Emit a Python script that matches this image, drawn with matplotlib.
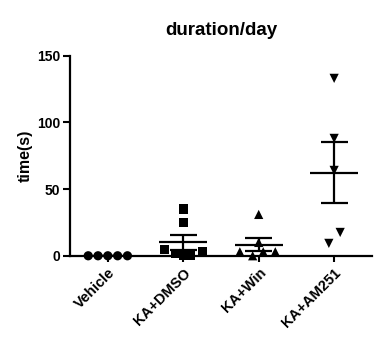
"""
Scatter dot plot with mean and SEM bars: duration/day per group.
"""

import numpy as np
import matplotlib.pyplot as plt

plt.rcParams['font.family'] = ['Liberation Sans', 'DejaVu Sans']
plt.rcParams['font.weight'] = 'bold'

# Groups and per-animal values (s)
groups = ["Vehicle", "KA+DMSO", "KA+Win", "KA+AM251"]
vehicle = [0, 0, 0, 0, 0]
ka_dmso = [35, 25, 5, 1.5, 0, 0, 3.5]
ka_win = [31, 10, 3, 0, 3, 3]
ka_am251 = [133, 88, 64, 17.5, 9.3]

values = [vehicle, ka_dmso, ka_win, ka_am251]
markers = ["o", "s", "^", "v"]

# horizontal scatter of points within each group (layout only)
offsets = [
    [-0.26, -0.13, 0.0, 0.13, 0.26],
    [0.0, 0.0, -0.25, -0.1, 0.0, 0.1, 0.26],
    [0.0, 0.0, -0.25, -0.08, 0.06, 0.22],
    [0.0, 0.0, 0.0, 0.08, -0.07],
]

fig = plt.figure(figsize=(3.81, 3.48), dpi=100)
ax = fig.add_axes([0.184, 0.265, 0.792, 0.575])

for i, (vals, mk, off) in enumerate(zip(values, markers, offsets)):
    vals = np.array(vals, dtype=float)
    xs = i + np.array(off)
    ax.scatter(xs, vals, marker=mk, s=44, color="black", edgecolors="none",
               zorder=3, clip_on=False)
    mean = vals.mean()
    sem = vals.std(ddof=1) / np.sqrt(len(vals))
    ax.hlines(mean, i - 0.32, i + 0.32, color="black", lw=1.6, zorder=4)
    ax.vlines(i, mean - sem, mean + sem, color="black", lw=1.6, zorder=4)
    ax.hlines([mean - sem, mean + sem], i - 0.18, i + 0.18, color="black",
              lw=1.6, zorder=4)

ax.set_xlim(-0.5, 3.5)
ax.set_ylim(0, 150)
ax.set_yticks([0, 50, 100, 150])
ax.set_xticks(range(len(groups)))
ax.set_xticklabels(groups, rotation=45, ha="right", rotation_mode="anchor",
                   fontsize=10.5, fontweight="bold")
ax.tick_params(axis="y", labelsize=10, width=1.5, length=5, pad=2)
ax.tick_params(axis="x", width=1.5, length=4, pad=3)
for lbl in ax.get_yticklabels():
    lbl.set_fontweight("bold")

for side in ["top", "right"]:
    ax.spines[side].set_visible(False)
for side in ["left", "bottom"]:
    ax.spines[side].set_linewidth(1.6)

ax.set_ylabel("time(s)", fontsize=11.5, fontweight="bold", labelpad=3)
ax.set_title("duration/day", fontsize=13.5, fontweight="bold", pad=15)

plt.savefig("out.png", dpi=100)
